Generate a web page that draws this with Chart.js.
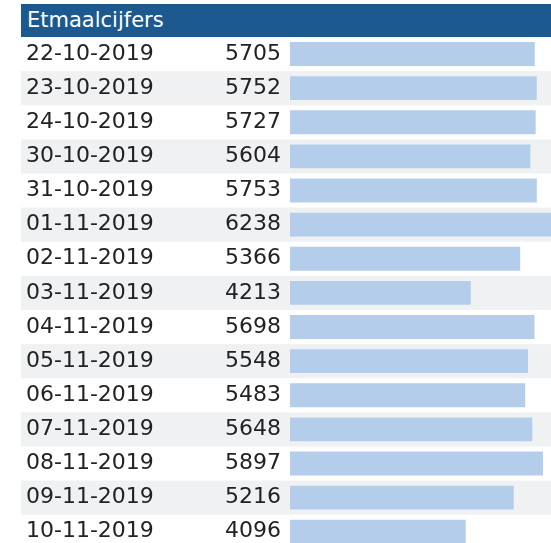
<!DOCTYPE html>
<html>
<head>
<meta charset="utf-8">
<script src="https://cdn.jsdelivr.net/npm/chart.js@4"></script>
<style>
  html, body { margin: 0; padding: 0; overflow: hidden; background: #fff; }
  #wrap { position: relative; width: 551px; height: 543px; overflow: hidden; }
  #kop {
    position: absolute; left: 21px; top: 4px; width: 530px; height: 33px;
    background: #1c598e; color: #fff; font: 21px "DejaVu Sans", Verdana, sans-serif;
    line-height: 33px; padding-left: 6px; box-sizing: border-box;
  }
  canvas { position: absolute; left: 0; top: 0; }
</style>
</head>
<body>
<div id="wrap">
  <canvas id="etmaal" width="551" height="571"></canvas>
  <div id="kop">Etmaalcijfers</div>
</div>
<script>
const datums = [
  '22-10-2019', '23-10-2019', '24-10-2019', '30-10-2019', '31-10-2019',
  '01-11-2019', '02-11-2019', '03-11-2019', '04-11-2019', '05-11-2019',
  '06-11-2019', '07-11-2019', '08-11-2019', '09-11-2019', '10-11-2019'
];
const aantallen = [5705, 5752, 5727, 5604, 5753, 6238, 5366, 4213, 5698, 5548, 5483, 5648, 5897, 5216, 4096];

const tekstKleur = '#222222';
const lettertype = { family: "'DejaVu Sans', Verdana, sans-serif", size: 22 };

// grijze achtergrond op elke tweede rij
const streepjes = {
  id: 'streepjes',
  beforeDraw(chart) {
    const { ctx, scales: { y } } = chart;
    const band = y.getPixelForValue(1) - y.getPixelForValue(0);
    ctx.save();
    ctx.fillStyle = '#f0f1f3';
    datums.forEach((d, i) => {
      if (i % 2 === 1) {
        ctx.fillRect(y.left - 5, y.getPixelForValue(i) - band / 2, chart.width - y.left + 5, band);
      }
    });
    ctx.restore();
  }
};

new Chart(document.getElementById('etmaal'), {
  type: 'bar',
  data: {
    labels: datums,
    datasets: [{
      data: aantallen,
      backgroundColor: '#b3cdeb',
      categoryPercentage: 1,
      barPercentage: 0.7
    }]
  },
  options: {
    indexAxis: 'y',
    responsive: false,
    animation: false,
    layout: { padding: { top: 37, left: 26, right: 0, bottom: 0 } },
    plugins: { legend: { display: false }, tooltip: { enabled: false } },
    scales: {
      x: { display: false, min: 0, max: 6084 },
      y: {
        position: 'left',
        weight: 1,
        grid: { display: false, drawTicks: false },
        border: { display: false },
        ticks: { crossAlign: 'far', padding: 0, autoSkip: false, color: tekstKleur, font: lettertype },
        afterFit(s) { s.width = 194; }
      },
      y2: {
        type: 'category',
        labels: aantallen.map(String),
        position: 'left',
        weight: 0,
        offset: true,
        grid: { display: false, drawTicks: false },
        border: { display: false },
        ticks: { padding: 9, autoSkip: false, color: tekstKleur, font: lettertype },
        afterFit(s) { s.width = 70; }
      }
    }
  },
  plugins: [streepjes]
});
</script>
</body>
</html>
